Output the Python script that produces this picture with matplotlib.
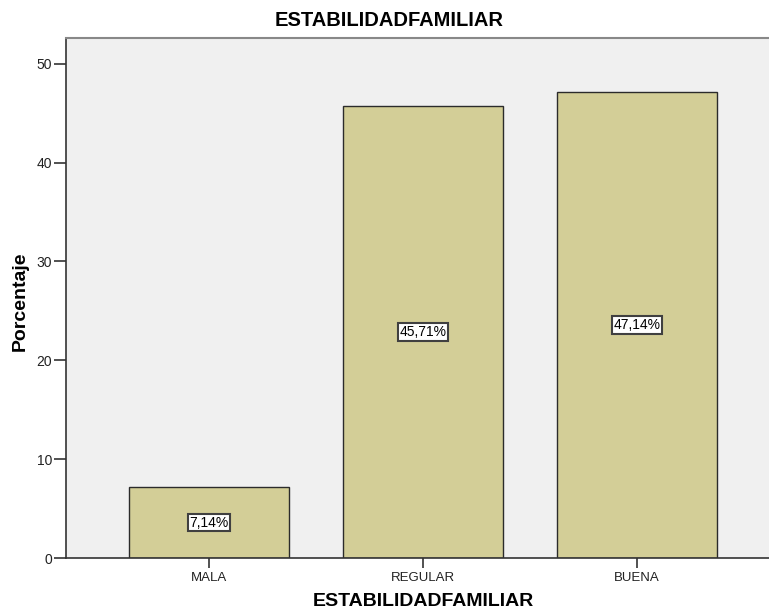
import matplotlib
matplotlib.use("Agg")
import matplotlib.pyplot as plt
import matplotlib.transforms as mtransforms

categories = ['MALA', 'REGULAR', 'BUENA']
percentages = [7.14, 45.71, 47.14]
bar_labels = ['7,14%', '45,71%', '47,14%']
yticks = [0, 10, 20, 30, 40, 50]

plt.rcParams['font.family'] = ['Liberation Sans', 'DejaVu Sans']

fig = plt.figure(figsize=(7.69, 6.13), dpi=100)
ax = fig.add_axes([66/769, 55/613, 1 - 66/769, (558 - 38)/613])
ax.set_facecolor('#f0f0f0')

x = list(range(len(categories)))
ax.bar(x, percentages, width=0.75, color='#d3ce97', edgecolor='#2b2b2b', linewidth=1.0, zorder=2)

for xi, val, lab in zip(x, percentages, bar_labels):
    ax.text(xi, val / 2, lab, ha='center', va='center', fontsize=10, zorder=3,
            bbox=dict(boxstyle='square,pad=0.12', facecolor='white', edgecolor='#404040', linewidth=1.5))

ax.set_xlim(-0.668, 2.617)
ax.set_ylim(0, 52.6)
ax.set_xticks(x)
ax.set_xticklabels(categories, fontsize=9.5, color='#222222')
ax.set_yticks(yticks)
ax.set_yticklabels([str(v) for v in yticks], fontsize=10, color='#222222')
ax.tick_params(axis='y', length=9, width=1.2, color='#333333', pad=1)
ax.tick_params(axis='x', length=7, width=1.2, color='#333333', pad=3)

ax.spines['right'].set_visible(False)
ax.spines['top'].set_color('#888888')
ax.spines['top'].set_linewidth(1.5)
ax.spines['left'].set_color('#333333')
ax.spines['left'].set_linewidth(1.2)
ax.spines['bottom'].set_color('#333333')
ax.spines['bottom'].set_linewidth(1.2)

fig.text(389/769, 1 - 21/613, 'ESTABILIDADFAMILIAR', ha='center', va='center', fontsize=14.5, fontweight='bold')
trans = mtransforms.blended_transform_factory(ax.transData, fig.transFigure)
ax.text(1, 1 - 602/613, 'ESTABILIDADFAMILIAR', transform=trans, ha='center', va='center',
        fontsize=14, fontweight='bold')
fig.text(20/769, 1 - 301/613, 'Porcentaje', ha='center', va='center', rotation=90, fontsize=14, fontweight='bold')

fig.savefig('out.png', dpi=100)
